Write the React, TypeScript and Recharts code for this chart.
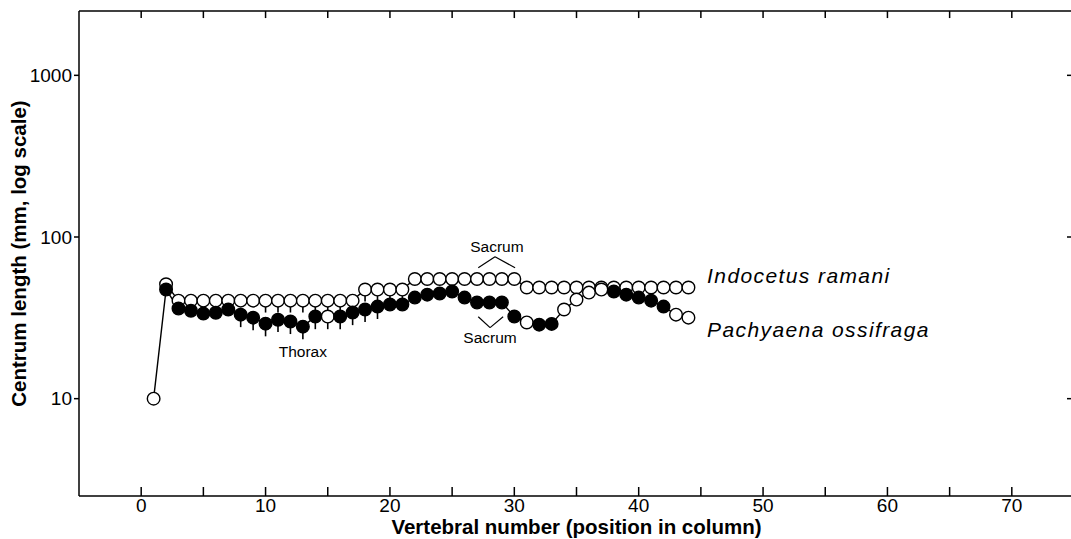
import React from 'react';
import { LineChart, Line, XAxis, YAxis, ErrorBar, ReferenceDot, ReferenceLine } from 'recharts';

// vertebral position in column
const vertebrae = [
  1, 2, 3, 4, 5, 6, 7, 8, 9, 10, 11, 12, 13, 14, 15, 16, 17, 18, 19, 20, 21, 22,
  23, 24, 25, 26, 27, 28, 29, 30, 31, 32, 33, 34, 35, 36, 37, 38, 39, 40, 41, 42, 43, 44,
];

// centrum length, mm
const indocetusLength = [
  null, 51, 40.4, 40.4, 40.4, 40.4, 40.4, 40.4, 40.4, 40.4, 40.4, 40.4, 40.4, 40.4, 40.4, 40.4,
  40.4, 47.3, 47.3, 47.3, 47.3, 55, 55, 55, 55, 55, 55, 55, 55, 55, 48.7, 48.7, 48.7, 48.7,
  48.7, 48.7, 48.7, 48.7, 48.7, 48.7, 48.7, 48.7, 48.7, 48.7,
];
const pachyaenaLength = [
  10, 47.3, 36.1, 35, 33.6, 34, 35.6, 33.1, 31.7, 29.1, 30.8, 30, 27.9, 32.2, 32.2, 32.2,
  34.1, 35.6, 37.1, 38.2, 38.2, 42.2, 44, 44.7, 46, 42.2, 39.3, 39.3, 39.3, 32.2, 29.6, 28.7,
  29, 35.6, 41, 45.3, 47.3, 46, 44, 42.2, 40.4, 37.1, 33.1, 31.7,
];
// positions drawn as open circles in the Pachyaena series
const pachyaenaOpenAt = [1, 15, 31, 34, 35, 36, 37, 43, 44];

// one-sided (downward) ranges
const indocetusErrAt = [10, 11, 12, 13, 14, 15, 16, 17, 18, 19, 20, 21];
const indocetusErr = [6.3, 6.3, 6.3, 6.3, 6.3, 6.3, 6.3, 6.3, 7.4, 7.4, 7.4, 7.4];
const pachyaenaErrAt = [8, 9, 10, 11, 12, 13, 14, 15, 16, 17, 18, 19];
const pachyaenaErr = [5.4, 5.2, 4.8, 5.0, 4.9, 4.6, 5.3, 5.3, 5.3, 5.6, 5.8, 6.0];

const xTicks = [0, 5, 10, 15, 20, 25, 30, 35, 40, 45, 50, 55, 60, 65, 70];
const yTicks = [10, 100, 1000];
const Y_MIN = 2.5;
const Y_MAX = 2500;

const data = vertebrae.map((v, i) => {
  const ie = indocetusErrAt.indexOf(v);
  const pe = pachyaenaErrAt.indexOf(v);
  return {
    v,
    ind: indocetusLength[i],
    pac: pachyaenaLength[i],
    indErr: [ie >= 0 ? indocetusErr[ie] : 0, 0],
    pacErr: [pe >= 0 ? pachyaenaErr[pe] : 0, 0],
    pacOpen: pachyaenaOpenAt.includes(v),
  };
});

const INK = '#000';

const makeDot = (isOpen: (p: any) => boolean) => (props: any) => {
  const { cx, cy, payload, index } = props;
  if (cx == null || cy == null || Number.isNaN(cy)) return <g key={`d${index}`} />;
  return (
    <circle
      key={`d${index}`}
      cx={cx}
      cy={cy}
      r={6.3}
      fill={isOpen(payload) ? '#fff' : INK}
      stroke={INK}
      strokeWidth={1.4}
    />
  );
};

// short inward tick hanging from the top frame
const TopTick = (props: any) => (
  <line x1={props.cx} x2={props.cx} y1={props.cy} y2={props.cy + 7} stroke={INK} strokeWidth={1.5} />
);

const textLabel = (value: string, x: number, y: number, extra: any = {}) => (
  <ReferenceDot
    key={`${value}-${x}`}
    xAxisId="b"
    yAxisId="l"
    x={x}
    y={y}
    r={0}
    fill="none"
    stroke="none"
    label={{ value, position: 'center', fontSize: 15.5, fill: INK, ...extra }}
  />
);

const seg = (a: [number, number], b: [number, number], w = 1.2) => (
  <ReferenceLine
    key={`${a[0]}-${b[0]}-${a[1]}-${b[1]}`}
    xAxisId="b"
    yAxisId="l"
    segment={[{ x: a[0], y: a[1] }, { x: b[0], y: b[1] }]}
    stroke={INK}
    strokeWidth={w}
  />
);

const blank = () => '';

export default function App() {
  return (
    <div
      style={{
        position: 'absolute',
        left: 0,
        top: 0,
        width: 1071,
        height: 539,
        overflow: 'hidden',
        background: '#fff',
        fontFamily: "'Liberation Sans', Arial, sans-serif",
      }}
    >
      <LineChart width={1080} height={539} data={data} margin={{ top: 0, right: 6, bottom: 0, left: 0 }}>
        <XAxis
          xAxisId="b"
          dataKey="v"
          type="number"
          domain={[-5, 75]}
          allowDataOverflow
          ticks={xTicks}
          interval={0}
          height={43}
          tickSize={-9}
          tickMargin={12}
          tickFormatter={(t: number) => (t % 10 === 0 ? String(t) : '')}
          axisLine={{ stroke: INK, strokeWidth: 1.5 }}
          tickLine={{ stroke: INK, strokeWidth: 1.5 }}
          tick={{ fill: INK, fontSize: 19 }}
          label={{
            value: 'Vertebral number (position in column)',
            position: 'insideBottom',
            offset: 5,
            fontSize: 20.5,
            fontWeight: 'bold',
            fill: INK,
          }}
        />
        <XAxis
          xAxisId="t"
          orientation="top"
          dataKey="v"
          type="number"
          domain={[-5, 75]}
          allowDataOverflow
          ticks={xTicks}
          interval={0}
          height={11}
          tickLine={false}
          tickFormatter={blank}
          axisLine={{ stroke: INK, strokeWidth: 1.5 }}
        />
        <YAxis
          yAxisId="l"
          scale="log"
          type="number"
          domain={[Y_MIN, Y_MAX]}
          allowDataOverflow
          ticks={yTicks}
          interval={0}
          width={79}
          tickSize={5}
          tickMargin={2}
          axisLine={{ stroke: INK, strokeWidth: 1.5 }}
          tickLine={{ stroke: INK, strokeWidth: 1.5 }}
          tick={{ fill: INK, fontSize: 19 }}
          label={{
            value: 'Centrum length (mm, log scale)',
            angle: -90,
            position: 'center',
            dx: -20.5,
            fontSize: 20.5,
            fontWeight: 'bold',
            fill: INK,
          }}
        />
        <YAxis
          yAxisId="r"
          orientation="right"
          mirror
          scale="log"
          type="number"
          domain={[Y_MIN, Y_MAX]}
          allowDataOverflow
          ticks={yTicks}
          interval={0}
          width={6}
          tickSize={7}
          tickFormatter={blank}
          axisLine={false}
          tickLine={{ stroke: INK, strokeWidth: 1.5 }}
        />

        <Line
          xAxisId="b"
          yAxisId="l"
          dataKey="ind"
          type="linear"
          stroke={INK}
          strokeWidth={1.4}
          dot={makeDot(() => true)}
          activeDot={false}
          isAnimationActive={false}
        >
          <ErrorBar dataKey="indErr" direction="y" width={0} stroke={INK} strokeWidth={1.6} />
        </Line>
        <Line
          xAxisId="b"
          yAxisId="l"
          dataKey="pac"
          type="linear"
          stroke={INK}
          strokeWidth={1.4}
          dot={makeDot((p) => p.pacOpen)}
          activeDot={false}
          isAnimationActive={false}
        >
          <ErrorBar dataKey="pacErr" direction="y" width={0} stroke={INK} strokeWidth={1.6} />
        </Line>

        {/* inward ticks along the top frame */}
        {xTicks.map((t) => (
          <ReferenceDot
            key={`tt${t}`}
            xAxisId="b"
            yAxisId="l"
            x={t}
            y={Y_MAX * 0.999}
            r={1}
            ifOverflow="visible"
            shape={TopTick}
          />
        ))}

        {seg([27.1, 64.5], [28.45, 75.4])}
        {seg([28.45, 75.4], [30.06, 64.5])}
        {seg([27.1, 32.1], [28.05, 27.5])}
        {seg([28.05, 27.5], [29.1, 32.1])}
        {textLabel('Sacrum', 28.6, 87)}
        {textLabel('Sacrum', 28.05, 23.8)}
        {textLabel('Thorax', 13.0, 19.5)}
        <ReferenceDot
          xAxisId="b"
          yAxisId="l"
          x={45.5}
          y={57.5}
          r={0}
          fill="none"
          stroke="none"
          label={{
            value: 'Indocetus ramani',
            position: 'right',
            offset: 0,
            fontSize: 21,
            fontStyle: 'italic',
            letterSpacing: 1.4,
            fill: INK,
          }}
        />
        <ReferenceDot
          xAxisId="b"
          yAxisId="l"
          x={45.5}
          y={26.7}
          r={0}
          fill="none"
          stroke="none"
          label={{
            value: 'Pachyaena ossifraga',
            position: 'right',
            offset: 0,
            fontSize: 21,
            fontStyle: 'italic',
            letterSpacing: 1.4,
            fill: INK,
          }}
        />
      </LineChart>
    </div>
  );
}
